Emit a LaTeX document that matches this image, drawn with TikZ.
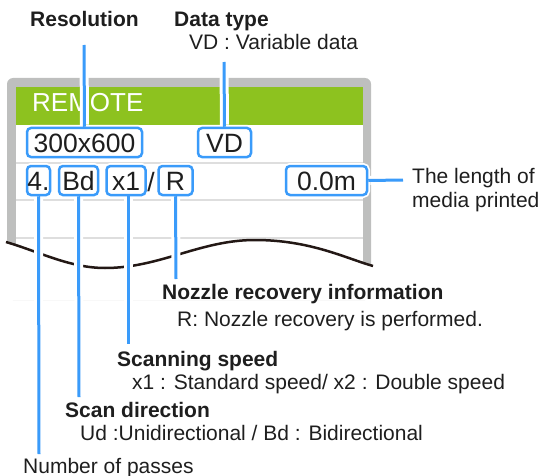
\documentclass[tikz,border=0pt]{standalone}
\usepackage{fontspec}
\setmainfont{Liberation Sans}
\definecolor{lblue}{RGB}{58,155,250}
\definecolor{rgreen}{RGB}{141,194,31}
\definecolor{fgrey}{RGB}{190,191,190}
\definecolor{sepgrey}{RGB}{222,222,222}
\definecolor{curvec}{RGB}{35,24,21}
\definecolor{txt}{RGB}{30,30,30}
\begin{document}
\begin{tikzpicture}[x=1pt,y=-1pt,
  box/.style={draw=lblue, line width=2.5pt, rounded corners=4pt, fill=white,
    preaction={draw=white, line width=6pt},
    inner sep=0pt, minimum height=29pt, text height=19pt, text depth=0pt,
    font=\fontsize{26.5}{26.5}\selectfont, text=txt},
  halo/.style={draw=white, line width=9pt, shorten <=2pt},
  lead/.style={draw=lblue, line width=3pt},
  head/.style={font=\fontsize{21}{24}\selectfont\bfseries, anchor=base west, inner sep=0pt, text=txt},
  desc/.style={font=\fontsize{21}{24}\selectfont, anchor=base west, inner sep=0pt, text=txt},
  sep/.style={draw=sepgrey, line width=1.5pt}]
\useasboundingbox (0,0) rectangle (543,476);
% frame
\fill[fgrey, rounded corners=6pt] (7,78) rectangle (371,300);
\fill[white] (16,87) rectangle (363,300);
\fill[rgreen] (16,87) rectangle (363,125);
\draw[sep] (16,163) -- (363,163);
\draw[sep] (16,200) -- (363,200);
\draw[sep] (16,238) -- (363,238);
% cut
\fill[white] (6,242) .. controls (40,252) and (70,268) .. (105,268)
  .. controls (160,268) and (200,240) .. (255,240)
  .. controls (310,240) and (345,258) .. (373,266) -- (380,300) -- (0,300) -- (0,242) -- cycle;
\draw[curvec, line width=2.5pt] (6,242) .. controls (40,252) and (70,268) .. (105,268)
  .. controls (160,268) and (200,240) .. (255,240)
  .. controls (310,240) and (345,258) .. (373,266);
\node[anchor=base west, text=white, font=\fontsize{26}{26}\selectfont, inner sep=0pt] (remote) at (32,112) {REMOTE};
% boxes
\node[box, minimum width=115pt] (res) at (84.5,142.5) {300x600};
\node[box, minimum width=23pt] (np) at (38.5,180.5) {4.};
\node[box, minimum width=53pt] (vd) at (224.5,142.5) {VD};
\node[box, minimum width=39pt] (bd) at (78.5,180.5) {Bd};
\node[box, minimum width=39pt] (sp) at (126,180.5) {x1};
\node[anchor=base, inner sep=0pt, font=\fontsize{26.5}{26.5}\selectfont, text=txt] (slash) at (151,191) {/};
\node[box, minimum width=34pt] (nr) at (175.5,180.5) {R};
\node[box, minimum width=81pt] (len) at (326.5,180.5) {0.0m};
% end points
\coordinate (resT) at (84,45);
\coordinate (dtT) at (224,62);
\coordinate (npB) at (39,454);
\coordinate (bdB) at (79,397);
\coordinate (spB) at (128,344);
\coordinate (nrB) at (176,279);
\coordinate (lenE) at (403,180);
% halos
\draw[halo] (res.north) -- (resT);
\draw[halo] (vd.north) -- (dtT);
\draw[halo] (np.south) -- (npB);
\draw[halo] (bd.south) -- (bdB);
\draw[halo] (sp.south -| spB) -- (spB);
\draw[halo] (nr.south) -- (nrB);
\draw[halo] (len.east) -- (lenE);
% leaders
\draw[lead] (res.north) -- (resT);
\draw[lead] (vd.north) -- (dtT);
\draw[lead] (np.south) -- (npB);
\draw[lead] (bd.south) -- (bdB);
\draw[lead] (sp.south -| spB) -- (spB);
\draw[lead] (nr.south) -- (nrB);
\draw[lead] (len.east) -- (lenE);
% texts
\node[head] (tRes) at (30,27) {Resolution};
\node[head] (tDt) at (174,27) {Data type};
\node[desc] (dDt) at (189,50) {VD : Variable data};
\node[desc] (tLen) at (412,183) {The length of};
\node[desc] (tLen2) at (412,207) {media printed};
\node[head] (tNr) at (162,299) {Nozzle recovery information};
\node[desc] (dNr) at (177,326) {R: Nozzle recovery is performed.};
\node[head] (tSp) at (117,366) {Scanning speed};
\node[desc] (dSp) at (132,389) {x1 : Standard speed/ x2 : Double speed};
\node[head] (tSd) at (65,417) {Scan direction};
\node[desc] (dSd) at (80,440) {Ud :Unidirectional / Bd : Bidirectional};
\node[desc] (tNp) at (23,473) {Number of passes};
\end{tikzpicture}
\end{document}
